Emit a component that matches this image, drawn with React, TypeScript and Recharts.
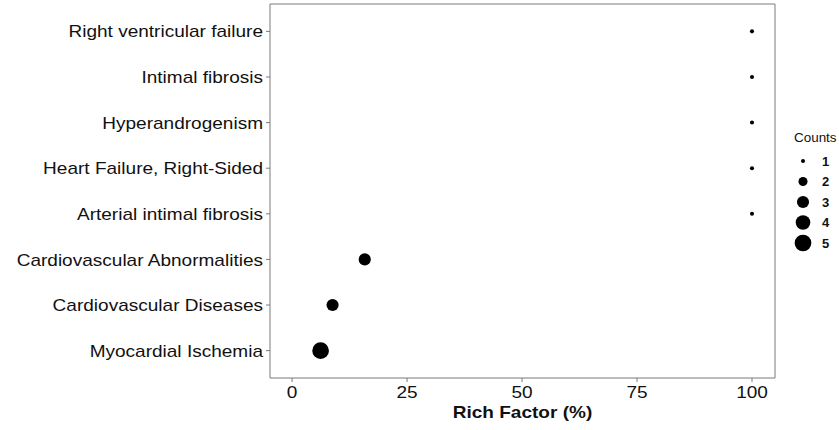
import { ScatterChart, Scatter, XAxis, YAxis, ZAxis, ReferenceArea, Label } from "recharts";

// top to bottom, as in the figure
const terms = [
  "Right ventricular failure",
  "Intimal fibrosis",
  "Hyperandrogenism",
  "Heart Failure, Right-Sided",
  "Arterial intimal fibrosis",
  "Cardiovascular Abnormalities",
  "Cardiovascular Diseases",
  "Myocardial Ischemia",
];
const richFactor = [100, 100, 100, 100, 100, 15.8, 8.8, 6.2];
const counts = [1, 1, 1, 1, 1, 3, 3, 5];
const xTicks = [0, 25, 50, 75, 100];
const legendCounts = [1, 2, 3, 4, 5];

const FONT = "'Liberation Sans', Arial, Helvetica, sans-serif";
const TEXT = "#111111";
const FRAME = "#7a7a7a";
const SX = 1.12; // source text is a bit wider than tall
const X_DOMAIN: [number, number] = [-4.8, 105];
const Y_DOMAIN: [number, number] = [0.4, 8.6];
const SIZE_RANGE: [number, number] = [13, 219]; // symbol area, px^2

const data = terms.map((term, i) => ({
  term,
  pos: terms.length - i,
  rich: richFactor[i],
  count: counts[i],
}));

const termAt = (pos: number) => terms[terms.length - pos] ?? "";

const radiusFor = (c: number) => {
  const area = SIZE_RANGE[0] + ((c - 1) / 4) * (SIZE_RANGE[1] - SIZE_RANGE[0]);
  return Math.sqrt(area / Math.PI);
};

function YTick(props: any) {
  const { x, y, payload } = props;
  return (
    <g transform={`translate(${x},${y})`}>
      <text transform={`scale(${SX},1)`} textAnchor="end" dy="0.36em" fontSize={17} fill={TEXT} fontFamily={FONT}>
        {termAt(payload.value)}
      </text>
    </g>
  );
}

function XTick(props: any) {
  const { x, y, payload } = props;
  return (
    <g transform={`translate(${x},${y})`}>
      <text transform={`scale(${SX},1)`} textAnchor="middle" dy="0.71em" fontSize={17} fill={TEXT} fontFamily={FONT}>
        {payload.value}
      </text>
    </g>
  );
}

function XTitle(props: any) {
  const vb = props.viewBox || { x: 270, y: 378, width: 505, height: 52 };
  const cx = vb.x + vb.width / 2;
  return (
    <g transform={`translate(${cx},${vb.y + 40})`}>
      <text transform={`scale(${SX},1)`} textAnchor="middle" fontSize={17} fontWeight="bold" fill={TEXT} fontFamily={FONT}>
        Rich Factor (%)
      </text>
    </g>
  );
}

function SizeLegend() {
  return (
    <svg width={60} height={130} style={{ position: "absolute", left: 786, top: 124 }}>
      <g transform="translate(8,18)">
        <text transform={`scale(${SX},1)`} fontSize={12} fill={TEXT} fontFamily={FONT}>
          Counts
        </text>
      </g>
      {legendCounts.map((c, i) => (
        <g key={c}>
          <circle cx={17} cy={37 + i * 20.5} r={radiusFor(c)} fill="#000" />
          <text x={36} y={37 + i * 20.5} dy="0.36em" fontSize={13} fontWeight="bold" fill={TEXT} fontFamily={FONT}>
            {c}
          </text>
        </g>
      ))}
    </svg>
  );
}

export default function App() {
  return (
    <div style={{ position: "absolute", left: 0, top: 0, width: 839, height: 430, background: "#fff" }}>
      <ScatterChart width={839} height={430} margin={{ top: 4, right: 64, bottom: 0, left: 0 }}>
        <XAxis
          type="number"
          dataKey="rich"
          domain={X_DOMAIN}
          ticks={xTicks}
          allowDataOverflow
          height={52}
          tickSize={4}
          tickMargin={4}
          axisLine={false}
          tickLine={{ stroke: FRAME }}
          tick={<XTick />}
        >
          <Label content={<XTitle />} />
        </XAxis>
        <YAxis
          type="number"
          dataKey="pos"
          domain={Y_DOMAIN}
          ticks={[1, 2, 3, 4, 5, 6, 7, 8]}
          allowDataOverflow
          width={270}
          tickSize={4}
          tickMargin={3}
          axisLine={false}
          tickLine={{ stroke: FRAME }}
          tick={<YTick />}
        />
        <ZAxis type="number" dataKey="count" domain={[1, 5]} range={SIZE_RANGE} />
        <ReferenceArea
          x1={X_DOMAIN[0]}
          x2={X_DOMAIN[1]}
          y1={Y_DOMAIN[0]}
          y2={Y_DOMAIN[1]}
          fill="none"
          stroke={FRAME}
          strokeWidth={1}
          ifOverflow="visible"
        />
        <Scatter data={data} fill="#000" isAnimationActive={false} />
      </ScatterChart>
      <SizeLegend />
    </div>
  );
}
